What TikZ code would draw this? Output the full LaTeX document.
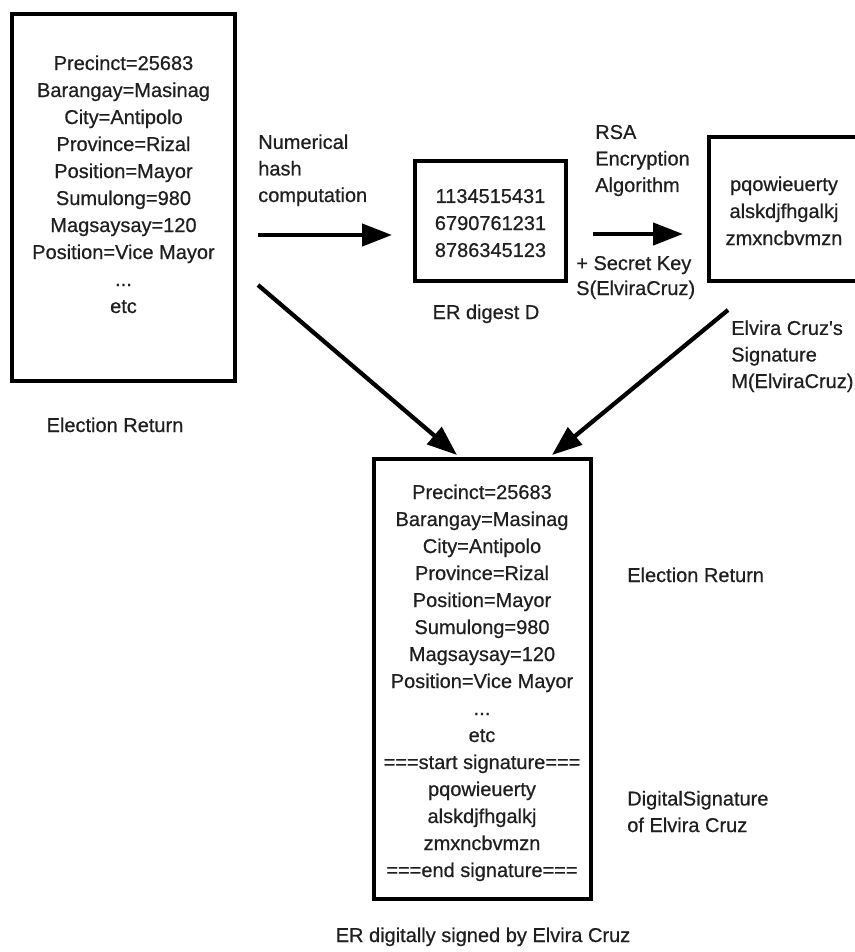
\documentclass[tikz,border=0pt]{standalone}
\usepackage{fontspec}
\setmainfont{Liberation Sans}[Ligatures=TeXOff,FakeBold=0.6]
\usetikzlibrary{arrows.meta}
\begin{document}
\begin{tikzpicture}[x=0.75pt,y=-0.75pt,
  boxx/.style={draw=black,line width=3.4pt,inner sep=0pt,rectangle},
  txt/.style={inner sep=0pt,align=center,anchor=base,text=black!88,
    font=\fontsize{15pt}{20.25pt}\selectfont},
  lbl/.style={inner sep=0pt,align=left,anchor=base west,text=black!88,
    font=\fontsize{15pt}{19.9pt}\selectfont},
  arr/.style={line width=3.2pt,-{Triangle[length=22.5pt,width=16.5pt]}}]
\useasboundingbox (0,0) rectangle (855,952);
\clip (0,0) rectangle (855,952);
% boxes
\node[boxx,minimum width=167.25pt,minimum height=275.25pt] (er) at (123.5,197.5) {};
\node[boxx,minimum width=113.25pt,minimum height=90pt] (dig) at (490.5,221) {};
\node[boxx,minimum width=114pt,minimum height=108pt] (sig) at (785,209) {};
\node[boxx,minimum width=162.75pt,minimum height=330pt] (signed) at (482.5,679) {};
% box texts (anchor = baseline of last line)
\node[txt] (ertext) at (123.5,313) {Precinct=25683\\Barangay=Masinag\\City=Antipolo\\Province=Rizal\\Position=Mayor\\Sumulong=980\\Magsaysay=120\\Position=Vice Mayor\\...\\etc};
\node[txt] (digtext) at (490.5,257) {1134515431\\6790761231\\8786345123};
\node[txt] (sigtext) at (784,245) {pqowieuerty\\alskdjfhgalkj\\zmxncbvmzn};
\node[txt] (signedtext) at (482,877) {Precinct=25683\\Barangay=Masinag\\City=Antipolo\\Province=Rizal\\Position=Mayor\\Sumulong=980\\Magsaysay=120\\Position=Vice Mayor\\...\\etc\\===start signature===\\pqowieuerty\\alskdjfhgalkj\\zmxncbvmzn\\===end signature===};
% labels
\node[lbl] (hashlbl) at (258,202) {Numerical\\hash\\computation};
\node[lbl] (rsalbl) at (595,192) {RSA\\Encryption\\Algorithm};
\node[lbl,font=\fontsize{15pt}{18.75pt}\selectfont] (keylbl) at (576,295) {+ Secret Key\\S(ElviraCruz)};
\node[lbl] (mlbl) at (731,388) {Elvira Cruz's\\Signature\\M(ElviraCruz)};
\node[txt] (diglbl) at (486,319) {ER digest D};
\node[txt] (erlbl) at (115,432) {Election Return};
\node[lbl] (erlbl2) at (627,582) {Election Return};
\node[lbl] (dslbl) at (627,832) {DigitalSignature\\of Elvira Cruz};
\node[txt] (signedlbl) at (483,942) {ER digitally signed by Elvira Cruz};
% arrow endpoints
\coordinate (a1s) at (258,235);
\coordinate (a1e) at (392,235);
\coordinate (a2s) at (593,234);
\coordinate (a2e) at (683,234);
\coordinate (a3s) at (258,285);
\coordinate (a3e) at (457,455);
\coordinate (a4s) at (728,310);
\coordinate (a4e) at (552,455);
\draw[arr] (a1s) -- (a1e);
\draw[arr] (a2s) -- (a2e);
\draw[arr] (a3s) -- (a3e);
\draw[arr] (a4s) -- (a4e);
\end{tikzpicture}
\end{document}
